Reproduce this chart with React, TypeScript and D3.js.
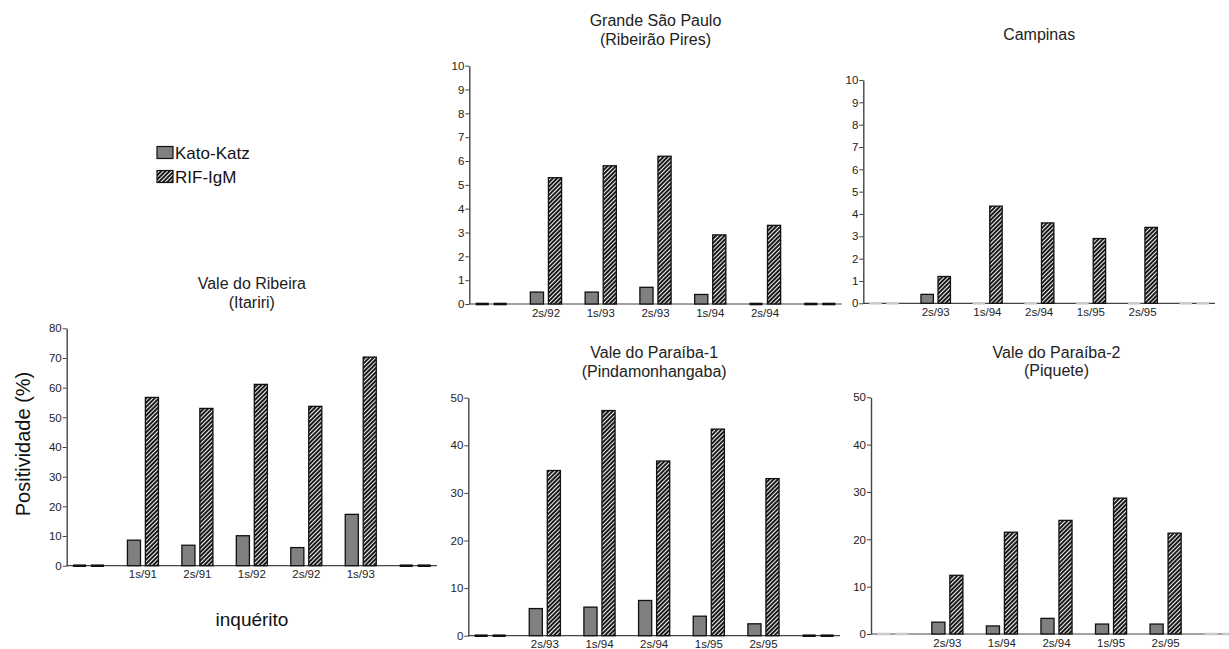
import React, { useEffect, useRef } from "react";
import * as d3 from "d3";

// first and last slot of every panel are empty semesters (drawn as flat bars)
const ribeiraLabels = ["", "1s/91", "2s/91", "1s/92", "2s/92", "1s/93", ""];
const ribeiraKato = [0, 8.6, 6.9, 10.1, 6.1, 17.3, 0];
const ribeiraRif = [0, 56.7, 53.0, 61.1, 53.7, 70.3, 0];

const saoPauloLabels = ["", "2s/92", "1s/93", "2s/93", "1s/94", "2s/94", ""];
const saoPauloKato = [0, 0.5, 0.5, 0.7, 0.4, 0, 0];
const saoPauloRif = [0, 5.3, 5.8, 6.2, 2.9, 3.3, 0];

const campinasLabels = ["", "2s/93", "1s/94", "2s/94", "1s/95", "2s/95", ""];
const campinasKato = [0, 0.4, 0, 0, 0, 0, 0];
const campinasRif = [0, 1.2, 4.35, 3.6, 2.9, 3.4, 0];

const pindaLabels = ["", "2s/93", "1s/94", "2s/94", "1s/95", "2s/95", ""];
const pindaKato = [0, 5.7, 6.0, 7.4, 4.1, 2.5, 0];
const pindaRif = [0, 34.7, 47.3, 36.7, 43.4, 33.0, 0];

const piqueteLabels = ["", "2s/93", "1s/94", "2s/94", "1s/95", "2s/95", ""];
const piqueteKato = [0, 2.5, 1.7, 3.3, 2.1, 2.1, 0];
const piqueteRif = [0, 12.4, 21.5, 24.0, 28.7, 21.3, 0];

const ticks80 = [0, 10, 20, 30, 40, 50, 60, 70, 80];
const ticks10 = [0, 1, 2, 3, 4, 5, 6, 7, 8, 9, 10];
const ticks50 = [0, 10, 20, 30, 40, 50];

const legendNames = ["Kato-Katz", "RIF-IgM"];

const FONT = "Arial, 'Liberation Sans', sans-serif";

// where each small chart sits on the page
const panels = [
  { title: ["Vale do Ribeira", "(Itariri)"], titleY: 289, x0: 66.7, x1: 437, y0: 565.7, yTop: 328.3, max: 80, ticks: ticks80,
    labels: ribeiraLabels, kato: ribeiraKato, rif: ribeiraRif, zero: "#111" },
  { title: ["Grande São Paulo", "(Ribeirão Pires)"], titleY: 26, x0: 469.3, x1: 841.7, y0: 304, yTop: 65.7, max: 10, ticks: ticks10,
    labels: saoPauloLabels, kato: saoPauloKato, rif: saoPauloRif, zero: "#111" },
  { title: ["Campinas"], titleY: 40, x0: 863.3, x1: 1215, y0: 303.3, yTop: 80, max: 10, ticks: ticks10,
    labels: campinasLabels, kato: campinasKato, rif: campinasRif, zero: "#ccc" },
  { title: ["Vale do Paraíba-1", "(Pindamonhangaba)"], titleY: 358, x0: 468.3, x1: 840, y0: 635.7, yTop: 397.7, max: 50, ticks: ticks50,
    labels: pindaLabels, kato: pindaKato, rif: pindaRif, zero: "#111" },
  { title: ["Vale do Paraíba-2", "(Piquete)"], titleY: 357.7, x0: 871, x1: 1242, y0: 634, yTop: 397.3, max: 50, ticks: ticks50,
    labels: piqueteLabels, kato: piqueteKato, rif: piqueteRif, zero: "#ccc" },
];

export default function App() {
  const ref = useRef<SVGSVGElement>(null);

  useEffect(() => {
    const svg = d3.select(ref.current);
    svg.selectAll("*").remove();

    // diagonal hatch for RIF-IgM
    const defs = svg.append("defs");
    const pat = defs.append("pattern")
      .attr("id", "hatch")
      .attr("patternUnits", "userSpaceOnUse")
      .attr("width", 3).attr("height", 3)
      .attr("patternTransform", "rotate(45)");
    pat.append("rect").attr("width", 3).attr("height", 3).attr("fill", "#f4f4f4");
    pat.append("line").attr("x1", 1).attr("x2", 1).attr("y1", 0).attr("y2", 3)
      .attr("stroke", "#1a1a1a").attr("stroke-width", 2);

    panels.forEach((p) => {
      const g = svg.append("g");
      const idx = d3.range(p.labels.length);
      const x = d3.scalePoint<number>().domain(idx).range([p.x0, p.x1]).padding(0.4);
      const y = d3.scaleLinear().domain([0, p.max]).range([p.y0, p.yTop]);
      const step = x.step();
      const bw = step * 0.24;
      const off = step * 0.165;

      // title
      const cx = (p.x0 + p.x1) / 2;
      p.title.forEach((t, i) => {
        g.append("text").attr("x", cx).attr("y", p.titleY + i * 18.5)
          .attr("text-anchor", "middle").attr("font-family", FONT).attr("font-size", 16)
          .attr("fill", "#222").text(t);
      });

      // y axis
      const ya = g.append("g").attr("transform", `translate(${p.x0},0)`)
        .call(d3.axisLeft(y).tickValues(p.ticks).tickSize(4).tickSizeOuter(0).tickFormat(d3.format("d")));
      ya.select(".domain").attr("stroke", "#444").attr("stroke-width", 1.4);
      ya.selectAll(".tick line").attr("stroke", "#444");
      ya.selectAll(".tick text").attr("font-family", FONT).attr("font-size", 11.5).attr("fill", "#222").attr("x", -5);

      // x axis line
      g.append("line").attr("x1", p.x0).attr("x2", p.x1).attr("y1", p.y0).attr("y2", p.y0)
        .attr("stroke", "#444").attr("stroke-width", 1.2);

      const series = [
        { vals: p.kato, dx: -off, fill: "#808080" },
        { vals: p.rif, dx: off, fill: "url(#hatch)" },
      ];
      series.forEach((s) => {
        idx.forEach((i) => {
          const v = s.vals[i];
          const bx = (x(i) as number) + s.dx - bw / 2;
          if (v === 0) {
            // empty semester: flat bar sitting on the axis
            g.append("line").attr("x1", bx).attr("x2", bx + bw).attr("y1", p.y0).attr("y2", p.y0)
              .attr("stroke", p.zero).attr("stroke-width", 2.6);
          } else {
            g.append("rect").attr("x", bx).attr("y", y(v)).attr("width", bw).attr("height", p.y0 - y(v))
              .attr("fill", s.fill).attr("stroke", "#111").attr("stroke-width", 1.3);
          }
        });
      });

      // semester labels
      idx.forEach((i) => {
        if (!p.labels[i]) return;
        g.append("text").attr("x", x(i) as number).attr("y", p.y0 + 12.5)
          .attr("text-anchor", "middle").attr("font-family", FONT).attr("font-size", 11.5)
          .attr("fill", "#222").text(p.labels[i]);
      });
    });

    // legend
    const lg = svg.append("g");
    legendNames.forEach((n, i) => {
      lg.append("rect").attr("x", 157).attr("y", 146.5 + i * 24).attr("width", 16).attr("height", 12)
        .attr("fill", i === 0 ? "#808080" : "url(#hatch)").attr("stroke", "#111").attr("stroke-width", 1.2);
      lg.append("text").attr("x", 175).attr("y", 158.5 + i * 24).attr("font-family", FONT).attr("font-size", 17)
        .attr("fill", "#111").text(n);
    });

    // axis titles
    svg.append("text").attr("transform", "translate(30,444) rotate(-90)").attr("text-anchor", "middle")
      .attr("font-family", FONT).attr("font-size", 20).attr("fill", "#111").text("Positividade (%)");
    svg.append("text").attr("x", 252).attr("y", 626).attr("text-anchor", "middle")
      .attr("font-family", FONT).attr("font-size", 19).attr("fill", "#111").text("inquérito");
  }, []);

  return (
    <svg ref={ref} width={1229} height={649}
      style={{ position: "absolute", left: 0, top: 0, background: "#fff" }} />
  );
}
